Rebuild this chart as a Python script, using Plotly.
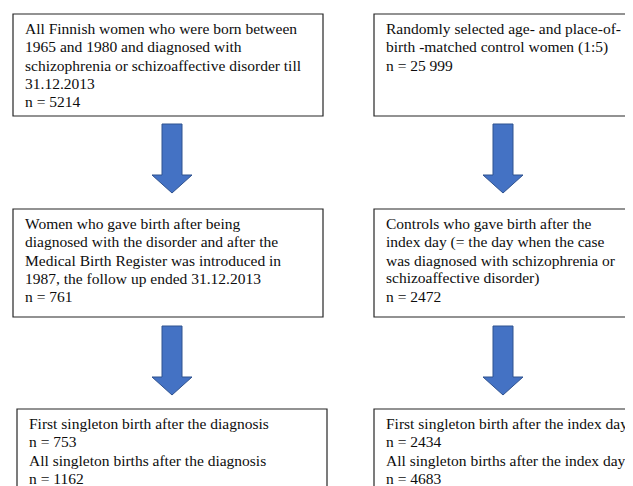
import plotly.graph_objects as go

# ---- data: flowchart texts ----
case_texts = [
    ["All Finnish women who were born between", "1965 and 1980 and diagnosed with",
     "schizophrenia or schizoaffective disorder till", "31.12.2013", "n = 5214"],
    ["Women who gave birth after being", "diagnosed with the disorder and after the",
     "Medical Birth Register was introduced in", "1987, the follow up ended 31.12.2013", "n = 761"],
    ["First singleton birth after the diagnosis", "n = 753",
     "All singleton births after the diagnosis", "n = 1162"],
]
control_texts = [
    ["Randomly selected age- and place-of-", "birth -matched control women (1:5)", "n = 25 999"],
    ["Controls who gave birth after the", "index day (= the day when the case",
     "was diagnosed with schizophrenia or", "schizoaffective disorder)", "n = 2472"],
    ["First singleton birth after the index day", "n = 2434",
     "All singleton births after the index day", "n = 4683"],
]

# ---- layout geometry (page pixels; body has an 8px margin) ----
W, H = 633, 486
PAD = 8
# per column, per row: (x0, x1)
box_x = [[(13, 323), (13, 323), (17, 327)],
         [(374, 631), (374, 631), (374, 645)]]
row_y = [(14, 116), (209, 317), (409, 520)]
arrow_rows = [(124, 193), (326, 395)]
arrow_cx = [172, 503]

FONT = "Liberation Serif, Times New Roman, serif"
FS = 15.5
LINE = 18.4
FIRST = 19.5

shapes = []
annotations = []
for ci, texts in enumerate([case_texts, control_texts]):
    for ri, lines in enumerate(texts):
        x0, x1 = box_x[ci][ri]
        y0, y1 = row_y[ri]
        shapes.append(dict(type="rect", xref="x", yref="y", x0=x0, x1=x1, y0=y0, y1=y1,
                           line=dict(color="#262626", width=1.2), fillcolor="white", layer="below"))
        for li, t in enumerate(lines):
            base = y0 + FIRST + li * LINE
            annotations.append(dict(x=x0 + 10, y=base - 0.34 * FS, xref="x", yref="y", text=t,
                                    showarrow=False, xanchor="left", yanchor="middle", align="left",
                                    font=dict(family=FONT, size=FS, color="#0d0d0d")))
    cx = arrow_cx[ci]
    for (ay0, ay1) in arrow_rows:
        sw, hw = 10, 20
        hy = ay0 + 51
        path = (f"M {cx-sw} {ay0} L {cx+sw} {ay0} L {cx+sw} {hy} L {cx+hw} {hy} "
                f"L {cx} {ay1} L {cx-hw} {hy} L {cx-sw} {hy} Z")
        shapes.append(dict(type="path", xref="x", yref="y", path=path,
                           fillcolor="#4472C4", line=dict(color="#2F528F", width=1)))

fig = go.Figure()
fig.update_layout(
    width=W - PAD, height=H - PAD, margin=dict(l=0, r=0, t=0, b=0),
    paper_bgcolor="white", plot_bgcolor="white",
    xaxis=dict(range=[PAD, W], visible=False, fixedrange=True),
    yaxis=dict(range=[H, PAD], visible=False, fixedrange=True),
    shapes=shapes, annotations=annotations, showlegend=False,
)
fig.write_html("out.html")
